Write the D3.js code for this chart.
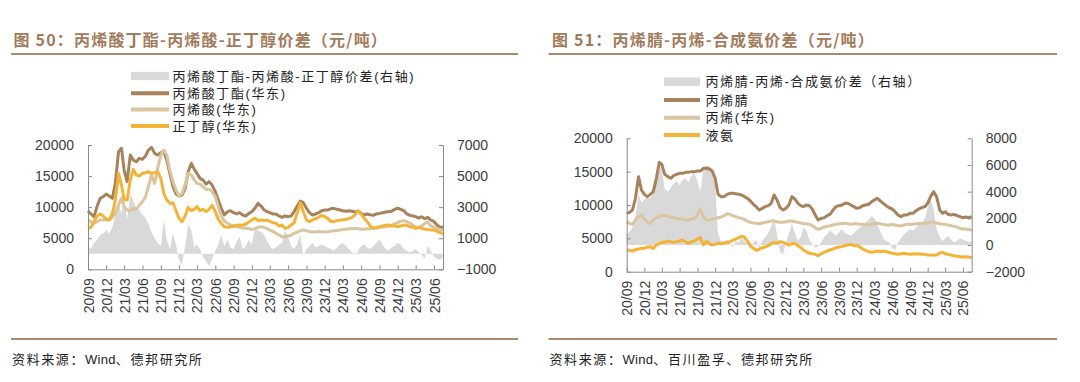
<!DOCTYPE html>
<html>
<head>
<meta charset="utf-8">
<script src="https://cdn.jsdelivr.net/npm/d3@7/dist/d3.min.js"></script>
<style>
  body { margin: 0; background: #fff; }
  svg { display: block; }
</style>
</head>
<body>
<div id="container"></div>
<script>
// half-month readings (1st and 16th of each month), 2020-09 .. 2025-07
const gridCount = 118;
const xTickLabels = ['20/09', '20/12', '21/03', '21/06', '21/09', '21/12', '22/03', '22/06', '22/09', '22/12',
  '23/03', '23/06', '23/09', '23/12', '24/03', '24/06', '24/09', '24/12', '25/03', '25/06'];

// 图50
const baPrice = [9380, 8900, 8470, 10080, 11420, 11680, 12110, 11790, 11420, 13830,
  18920, 19460, 15970, 14100, 18380, 17580, 17310, 17850, 17690, 18220,
  19190, 19620, 18650, 18380, 18760, 18920, 17580, 15440, 13290, 12110,
  11790, 11950, 13020, 15700, 17040, 16080, 15440, 14630, 14360, 13720,
  14100, 13560, 12490, 11150, 9810, 8740, 9270, 9430, 9110, 8900,
  9110, 8740, 8580, 9000, 9270, 9810, 10610, 10180, 9540, 9270,
  9110, 8900, 8900, 8580, 8360, 8580, 8470, 8580, 9270, 10180,
  10990, 10720, 9810, 9110, 8740, 8900, 9110, 9430, 9540, 9540,
  9760, 9810, 9650, 9540, 9430, 9330, 9430, 9330, 9220, 9330,
  9000, 8740, 8900, 8790, 8680, 8900, 9000, 9110, 9220, 9270,
  9330, 9650, 9860, 9650, 9430, 8900, 8680, 8580, 8470, 8250,
  8470, 8150, 8360, 7930, 7660, 7130, 6750, 6750];
const aaPrice = [7930, 7660, 7400, 7660, 7930, 7930, 8040, 7930, 8360, 9000,
  10340, 11420, 10080, 9540, 9430, 9810, 9650, 10340, 10880, 11680,
  13290, 15170, 13830, 16240, 18380, 19190, 18380, 15970, 14100, 12760,
  11790, 12220, 13560, 15440, 15170, 14360, 13830, 13720, 13290, 12860,
  12860, 12490, 11680, 10080, 8580, 7830, 7400, 7130, 6970, 6860,
  6750, 6650, 6590, 6540, 6430, 6540, 6750, 6860, 6750, 6540,
  6320, 6110, 5790, 5520, 5250, 5250, 5360, 5470, 5790, 6000,
  6220, 6320, 6220, 6060, 6000, 6000, 6110, 6060, 6000, 6060,
  6110, 6220, 6220, 6320, 6430, 6430, 6540, 6540, 6590, 6540,
  6430, 6430, 6540, 6540, 6590, 6590, 6750, 6750, 6860, 6970,
  7080, 7290, 7500, 7720, 7830, 7660, 7400, 7130, 6750, 6750,
  6970, 7400, 7600, 6970, 6750, 6590, 6430, 6220];
const nbaPrice = [6590, 6750, 7660, 8580, 8900, 8580, 8040, 7930, 8900, 11150,
  15440, 13560, 11260, 11150, 14360, 16080, 15170, 15010, 15440, 15540,
  15700, 15440, 15540, 15700, 14630, 12220, 11150, 10610, 10720, 9430,
  8200, 7660, 8580, 9970, 9430, 9650, 10080, 9430, 9650, 9270,
  9650, 10290, 9270, 8040, 7400, 6860, 6750, 6860, 6970, 7080,
  7130, 7080, 7290, 7610, 7930, 8250, 7830, 7930, 7830, 7930,
  7720, 7500, 7400, 6970, 7130, 6590, 6750, 7130, 7500, 9000,
  10720, 9270, 7930, 7660, 7930, 8150, 8360, 8680, 8470, 8200,
  7720, 7660, 7830, 7930, 7930, 8040, 8150, 8360, 8740, 9430,
  8900, 8200, 7660, 6970, 6650, 6750, 6860, 6970, 7080, 7130,
  6970, 6970, 6860, 6970, 7130, 7080, 6860, 6750, 6590, 6750,
  6590, 6430, 6430, 6320, 6320, 6110, 5900, 5680];
const baSpread = [500, 300, 700, 900, 1200, 1300, 1500, 1300, 1700, 2400,
  3200, 2600, 3600, 2200, 3900, 3400, 3000, 2800, 2500, 2300,
  1900, 1400, 1000, 700, 500, 2200, 900, 300, 1300, 600,
  -400, -700, 500, 1900, 1500, 400, 600, 300, -200, -500,
  -800, -300, 200, 600, 1200, 500, 900, 400, 300, 800,
  1100, 300, 500, 900, 600, 1600, 1500, 1400, 1200, 800,
  500, 300, 400, 600, 700, 1500, 1100, 500, 300, 600,
  1200, -100, 300, 500, 700, 400, 500, 600, 500, 400,
  300, 200, 400, 600, 700, 500, 300, 100, -100, 200,
  500, 600, 400, 300, 500, 700, 900, 600, 300, 200,
  400, 500, 700, 600, 300, 200, 100, 200, 300, 100,
  -100, -300, 500, 200, -200, -300, -400, -200];

// 图51
const anPrice = [8750, 8900, 9250, 11000, 14250, 12250, 11600, 11250, 11600, 12000,
  14000, 16400, 16100, 14600, 14250, 14000, 14400, 14600, 14750, 14750,
  14900, 14900, 15000, 15000, 15100, 15100, 15500, 15500, 15400, 15100,
  14000, 11600, 11250, 11250, 11600, 11750, 11750, 11700, 11600, 11500,
  11250, 11000, 10600, 10100, 9750, 9250, 9500, 9750, 9900, 10250,
  11500, 10750, 9600, 9250, 9500, 10000, 11250, 10900, 10250, 9900,
  9750, 10000, 9900, 9400, 8500, 7750, 8000, 8100, 8400, 8600,
  9250, 9750, 9900, 10000, 10250, 10250, 10000, 9750, 9500, 9600,
  9900, 10000, 10100, 10500, 10750, 11000, 10600, 10250, 9900, 9600,
  9400, 9000, 8500, 8250, 8500, 8500, 8750, 8750, 9100, 9400,
  9600, 9750, 10250, 11250, 12000, 11250, 9250, 8750, 9000, 8600,
  8500, 8600, 8400, 8250, 8100, 8200, 8100, 8250];
const propylenePrice = [7500, 7250, 7100, 7750, 8250, 8500, 7900, 7400, 7250, 7750,
  8100, 8250, 8400, 8500, 8300, 8200, 8100, 8000, 7900, 7900,
  7800, 7750, 7900, 8000, 8500, 9400, 8250, 7750, 7700, 7900,
  8000, 8100, 8200, 8400, 8700, 8600, 8400, 8250, 8100, 8000,
  7800, 7600, 7400, 7300, 7250, 7200, 7300, 7400, 7500, 7600,
  7600, 7500, 7400, 7400, 7500, 7600, 7600, 7500, 7400, 7300,
  7200, 7200, 7100, 6900, 6600, 6350, 6500, 6700, 6800, 6900,
  7000, 7100, 7200, 7200, 7250, 7200, 7100, 7200, 7200, 7100,
  7100, 7000, 7000, 7100, 7200, 7250, 7200, 7100, 7000, 7000,
  7100, 7000, 6900, 6900, 7000, 7100, 7100, 7100, 7200, 7200,
  7250, 7250, 7300, 7400, 7400, 7300, 7200, 7100, 7100, 7000,
  6900, 6800, 6700, 6500, 6400, 6400, 6300, 6300];
const ammoniaPrice = [3250, 3200, 3100, 3300, 3400, 3500, 3500, 3700, 3750, 3500,
  4000, 4250, 4400, 4400, 4600, 4500, 4400, 4500, 4600, 4750,
  4500, 4250, 4500, 4600, 4900, 5100, 4000, 4600, 4200, 4000,
  4100, 4250, 4200, 4300, 4400, 4500, 4700, 4900, 5100, 5300,
  5200, 4600, 3900, 3500, 3200, 3400, 3600, 3700, 3900, 4200,
  4400, 4250, 4500, 4400, 4200, 4000, 4200, 4250, 3900, 3600,
  3250, 3000, 2750, 2700, 2600, 2400, 2700, 2900, 3100, 3250,
  3400, 3600, 3700, 3750, 3900, 4000, 4100, 3900, 4000, 3700,
  3400, 3200, 3000, 2900, 3000, 3100, 3000, 3100, 3000, 2900,
  2750, 2700, 2600, 2700, 2750, 2700, 2600, 2650, 2700, 2650,
  2600, 2600, 2500, 2500, 2450, 2500, 2800, 2900, 2700, 2600,
  2500, 2400, 2300, 2250, 2200, 2250, 2200, 2100];
const anSpread = [800, 1000, 1300, 2200, 3800, 3200, 3400, 3600, 3500, 3800,
  4800, 6000, 5600, 4200, 4000, 4300, 4600, 4800, 4500, 4900,
  5000, 4700, 5200, 5400, 4800, 4000, 5600, 6000, 5900, 5700,
  4500, 800, 300, 200, 400, 100, -200, 300, 200, 500,
  300, 100, -300, 200, 400, -200, 300, 600, 900, 1400,
  2000, 800, -500, -700, 200, 800, 1600, 900, 300, 600,
  1300, 1100, 400, 100, -200, -100, 200, 600, 800, 1100,
  900, 700, 1000, 1200, 900, 800, 700, 900, 1100, 1300,
  1500, 1700, 1900, 2200, 2000, 1600, 1000, 500, 300, 200,
  -200, -400, 200, 500, 800, 1000, 1200, 1100, 1300, 1500,
  1600, 2000, 2800, 3500, 2600, 1200, 600, 300, 500, 700,
  400, 200, 300, 500, 400, 300, 200, 300];

const leftTicks = [0, 5000, 10000, 15000, 20000];

const COLORS = {
  spread: '#d9d9d9',
  dark: '#a8825a',
  light: '#d9c59e',
  orange: '#f5b335',
  title: '#a27b5b',
  rule: '#ab8a6c',
  axis: '#8a8a8a',
  text: '#3c3c3c'
};
const NUM_FONT = '"Liberation Sans", Arial, sans-serif';
const CJK_FONT = '"Noto Sans CJK SC", "Noto Sans", sans-serif';
// latin first: keeps "Wind", brackets and the line box compact, CJK falls back
const MIX_FONT = '"Liberation Sans", "Noto Sans CJK SC", sans-serif';

const svg = d3.select('#container').append('svg')
  .attr('width', 1080)
  .attr('height', 382);

const dates = d3.range(gridCount).map(k => new Date(2020, 8 + Math.floor(k / 2), k % 2 ? 16 : 1));
const parseTick = d3.timeParse('%y/%m');
const tickDates = xTickLabels.map(parseTick);

const panels = [
  {
    title: '图 50：丙烯酸丁酯-丙烯酸-正丁醇价差（元/吨）',
    source: ['资料来源：', 'Wind', '、德邦研究所'],
    titleX: 13.5, ruleX0: 11, ruleX1: 518,
    x0: 88, x1: 443, yTop: 145, yBottom: 269.3,
    rightDomain: [-1000, 7000], rightTicks: [-1000, 1000, 3000, 5000, 7000],
    legendX: 131, legendW: 38, legendTextX: 172.5, legendYs: [76, 93.3, 109.6, 126],
    series: [
      { name: '丙烯酸丁酯-丙烯酸-正丁醇价差(右轴)', values: baSpread, type: 'area', color: COLORS.spread },
      { name: '丙烯酸丁酯(华东)', values: baPrice, type: 'line', color: COLORS.dark },
      { name: '丙烯酸(华东)', values: aaPrice, type: 'line', color: COLORS.light },
      { name: '正丁醇(华东)', values: nbaPrice, type: 'line', color: COLORS.orange }
    ]
  },
  {
    title: '图 51：丙烯腈-丙烯-合成氨价差（元/吨）',
    source: ['资料来源：', 'Wind', '、百川盈孚、德邦研究所'],
    titleX: 552, ruleX0: 548.5, ruleX1: 1057,
    x0: 626.7, x1: 971.7, yTop: 138.3, yBottom: 271.7,
    rightDomain: [-2000, 8000], rightTicks: [-2000, 0, 2000, 4000, 6000, 8000],
    legendX: 664, legendW: 36, legendTextX: 705.5, legendYs: [81.7, 100, 117.7, 135],
    series: [
      { name: '丙烯腈-丙烯-合成氨价差（右轴）', values: anSpread, type: 'area', color: COLORS.spread },
      { name: '丙烯腈', values: anPrice, type: 'line', color: COLORS.dark },
      { name: '丙烯(华东)', values: propylenePrice, type: 'line', color: COLORS.light },
      { name: '液氨', values: ammoniaPrice, type: 'line', color: COLORS.orange }
    ]
  }
];

panels.forEach(drawPanel);

function drawPanel(p) {
  const g = svg.append('g');

  // heading + rules
  g.append('text')
    .text(p.title)
    .attr('x', p.titleX)
    .attr('y', 38.5)
    .attr('dominant-baseline', 'central')
    .attr('font-family', CJK_FONT)
    .attr('font-weight', 700)
    .attr('font-size', 16)
    .attr('letter-spacing', 1.2)
    .attr('fill', COLORS.title);

  [54, 339].forEach(y => {
    g.append('line')
      .attr('x1', p.ruleX0).attr('x2', p.ruleX1)
      .attr('y1', y).attr('y2', y)
      .attr('stroke', COLORS.rule)
      .attr('stroke-width', 2);
  });

  const src = g.append('text')
    .attr('x', p.ruleX0 + 1)
    .attr('y', 359)
    .attr('dominant-baseline', 'central')
    .attr('font-family', MIX_FONT)
    .attr('font-size', 13)
    .attr('fill', '#222');
  p.source.forEach(part => {
    src.append('tspan')
      .text(part)
      .attr('letter-spacing', part === 'Wind' ? 0.3 : 1.6);
  });

  const x = d3.scaleTime()
    .domain([dates[0], dates[dates.length - 1]])
    .range([p.x0, p.x1]);
  const yL = d3.scaleLinear().domain([0, 20000]).range([p.yBottom, p.yTop]);
  const yR = d3.scaleLinear().domain(p.rightDomain).range([p.yBottom, p.yTop]);

  // spread area on the right axis
  const spread = p.series[0];
  const area = d3.area()
    .x((d, i) => x(dates[i]))
    .y0(yR(0))
    .y1(d => yR(d));
  g.append('path')
    .datum(spread.values)
    .attr('d', area)
    .attr('fill', spread.color);

  const line = d3.line()
    .x((d, i) => x(dates[i]))
    .y(d => yL(d));
  p.series.slice(1).forEach(s => {
    g.append('path')
      .datum(s.values)
      .attr('d', line)
      .attr('fill', 'none')
      .attr('stroke', s.color)
      .attr('stroke-width', 3)
      .attr('stroke-linejoin', 'round');
  });

  // axes
  const axL = g.append('g')
    .attr('transform', `translate(${p.x0},0)`)
    .call(d3.axisLeft(yL).tickValues(leftTicks).tickSize(-4).tickSizeOuter(0).tickPadding(14).tickFormat(d3.format('d')));
  const axR = g.append('g')
    .attr('transform', `translate(${p.x1},0)`)
    .call(d3.axisRight(yR).tickValues(p.rightTicks).tickSize(-4).tickSizeOuter(0).tickPadding(14).tickFormat(d3.format('d')));
  const axB = g.append('g')
    .attr('transform', `translate(0,${p.yBottom})`)
    .call(d3.axisBottom(x).tickValues(tickDates).tickSize(-4).tickSizeOuter(0).tickFormat((d, i) => xTickLabels[i]));

  axB.selectAll('text')
    .attr('x', 0)
    .attr('y', 0)
    .attr('dy', null)
    .attr('text-anchor', 'end')
    .attr('transform', 'translate(5,9) rotate(-90)');

  [axL, axR, axB].forEach(ax => {
    ax.select('.domain').attr('stroke', COLORS.axis);
    ax.selectAll('.tick line').attr('stroke', COLORS.axis);
    ax.selectAll('text')
      .attr('font-family', NUM_FONT)
      .attr('font-size', 14)
      .attr('fill', COLORS.text);
  });

  // legend
  p.series.forEach((s, i) => {
    const ly = p.legendYs[i];
    if (s.type === 'area') {
      g.append('rect')
        .attr('x', p.legendX).attr('y', ly - 4.2)
        .attr('width', p.legendW).attr('height', 8.4)
        .attr('fill', s.color);
    } else {
      g.append('line')
        .attr('x1', p.legendX).attr('x2', p.legendX + p.legendW)
        .attr('y1', ly).attr('y2', ly)
        .attr('stroke', s.color)
        .attr('stroke-width', 4);
    }
    g.append('text')
      .text(s.name)
      .attr('x', p.legendTextX)
      .attr('y', ly)
      .attr('dominant-baseline', 'central')
      .attr('font-family', MIX_FONT)
      .attr('font-size', 13)
      .attr('letter-spacing', 1.6)
      .attr('fill', '#222');
  });
}
</script>
</body>
</html>
